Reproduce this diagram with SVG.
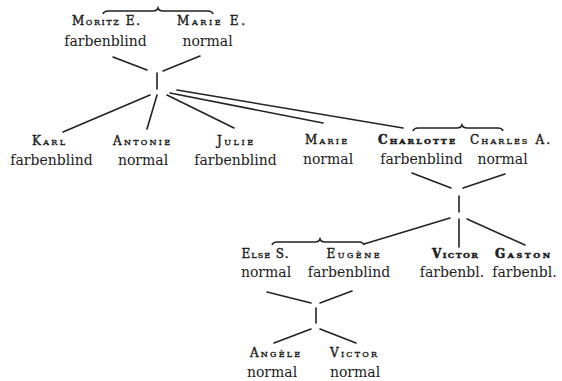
<svg xmlns="http://www.w3.org/2000/svg" width="562" height="381" viewBox="0 0 562 381">
<style>
.bg{fill:#ffffff}
.nm{font-family:"DejaVu Serif","Liberation Serif",serif;font-size:12px;font-variant:small-caps;text-anchor:middle;fill:#1c1c1c;stroke:#1c1c1c;stroke-width:0.4}
.bd{font-weight:bold;stroke-width:0.5}
.st{font-family:"DejaVu Serif","Liberation Serif",serif;font-size:14px;text-anchor:middle;fill:#1c1c1c}
.ln{stroke:#222;stroke-width:1.6;fill:none;stroke-linecap:round}
.br{stroke:#222;stroke-width:1.6;fill:none}
</style>
<rect class="bg" x="0" y="0" width="562" height="381"/>

<g id="connectors">
  <path class="br" d="M103,14 Q104,11 108,11 L153,11 Q157,11 158,8 Q159,11 163,11 L208,11 Q212,11 213,14"/>
  <path class="br" d="M413,131 Q414,128 418,128 L457,128 Q461,128 462,125 Q463,128 467,128 L498,128 Q502,128 503,131"/>
  <path class="br" d="M272,245 Q273,242 277,242 L315,242 Q319,242 320,239 Q321,242 325,242 L359,242 Q363,242 364,245"/>
  <line class="ln" x1="113" y1="57" x2="147" y2="70"/>
  <line class="ln" x1="200" y1="56" x2="163" y2="71"/>
  <line class="ln" x1="157" y1="73" x2="157" y2="89"/>
  <line class="ln" x1="150" y1="95" x2="63" y2="132"/>
  <line class="ln" x1="157" y1="95" x2="147" y2="129"/>
  <line class="ln" x1="167" y1="95" x2="234" y2="128"/>
  <line class="ln" x1="170" y1="93" x2="323" y2="123"/>
  <line class="ln" x1="177" y1="90" x2="403" y2="128"/>
  <line class="ln" x1="412" y1="173" x2="451" y2="188"/>
  <line class="ln" x1="505" y1="174" x2="463" y2="188"/>
  <line class="ln" x1="459" y1="196" x2="459" y2="212"/>
  <line class="ln" x1="450" y1="218" x2="364" y2="244"/>
  <line class="ln" x1="459" y1="219" x2="459" y2="247"/>
  <line class="ln" x1="467" y1="219" x2="525" y2="245"/>
  <line class="ln" x1="267" y1="292" x2="311" y2="303"/>
  <line class="ln" x1="352" y1="291" x2="320" y2="303"/>
  <line class="ln" x1="316" y1="308" x2="316" y2="323"/>
  <line class="ln" x1="311" y1="329" x2="274" y2="343"/>
  <line class="ln" x1="320" y1="329" x2="356" y2="343"/>
</g>

<g id="moritz">
  <text class="nm" x="106" y="25" textLength="68" lengthAdjust="spacing">Moritz E.</text>
  <text class="st" x="105.5" y="46">farbenblind</text>
</g>
<g id="marie-e">
  <text class="nm" x="211" y="25" textLength="68" lengthAdjust="spacing">Marie E.</text>
  <text class="st" x="207.5" y="46">normal</text>
</g>

<g id="karl">
  <text class="nm" x="48.5" y="145" textLength="33" lengthAdjust="spacing">Karl</text>
  <text class="st" x="51.5" y="165">farbenblind</text>
</g>
<g id="antonie">
  <text class="nm" x="141.5" y="145" textLength="57" lengthAdjust="spacing">Antonie</text>
  <text class="st" x="143" y="165">normal</text>
</g>
<g id="julie">
  <text class="nm" x="235" y="145" textLength="36" lengthAdjust="spacing">Julie</text>
  <text class="st" x="235.5" y="165">farbenblind</text>
</g>
<g id="marie">
  <text class="nm" x="326" y="144" textLength="42" lengthAdjust="spacing">Marie</text>
  <text class="st" x="328" y="164">normal</text>
</g>
<g id="charlotte">
  <text class="nm bd" x="416.5" y="144" textLength="77" lengthAdjust="spacing">Charlotte</text>
  <text class="st" x="421.5" y="164">farbenblind</text>
</g>
<g id="charles">
  <text class="nm" x="510" y="144" textLength="80" lengthAdjust="spacing">Charles A.</text>
  <text class="st" x="502.5" y="164">normal</text>
</g>

<g id="else">
  <text class="nm" x="265" y="258" textLength="47" lengthAdjust="spacing">Else S.</text>
  <text class="st" x="266" y="277">normal</text>
</g>
<g id="eugene">
  <text class="nm" x="353" y="258" textLength="53" lengthAdjust="spacing">Eugène</text>
  <text class="st" x="349" y="277">farbenblind</text>
</g>
<g id="victor-1">
  <text class="nm bd" x="455" y="258" textLength="46" lengthAdjust="spacing">Victor</text>
  <text class="st" x="452" y="277">farbenbl.</text>
</g>
<g id="gaston">
  <text class="nm bd" x="522.5" y="258" textLength="55" lengthAdjust="spacing">Gaston</text>
  <text class="st" x="524.5" y="277">farbenbl.</text>
</g>

<g id="angele">
  <text class="nm" x="275" y="357" textLength="50" lengthAdjust="spacing">Angèle</text>
  <text class="st" x="272" y="377">normal</text>
</g>
<g id="victor-2">
  <text class="nm" x="353.5" y="357" textLength="47" lengthAdjust="spacing">Victor</text>
  <text class="st" x="355" y="377">normal</text>
</g>
</svg>
